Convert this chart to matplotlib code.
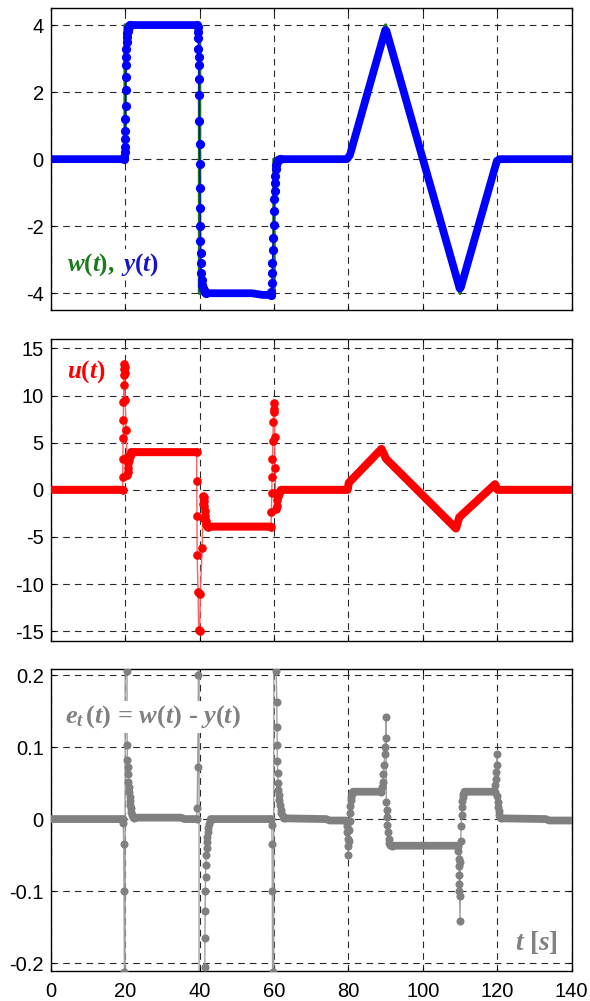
import numpy as np
import matplotlib.pyplot as plt

nan = np.nan

plt.rcParams['font.family'] = ['Liberation Sans', 'DejaVu Sans']
plt.rcParams['axes.unicode_minus'] = False
plt.rcParams['mathtext.fontset'] = 'custom'
plt.rcParams['mathtext.rm'] = 'Liberation Serif:bold'
plt.rcParams['mathtext.it'] = 'Liberation Serif:italic:bold'
plt.rcParams['mathtext.bf'] = 'Liberation Serif:bold'

# reference signal w(t) (breakpoints)
w_t = [0, 20, 20, 40, 40, 60, 60, 80, 90, 110, 120, 140]
w_v = [0, 0, 4, 4, -4, -4, 0, 0, 4, -4, 0, 0]

# output y(t): settled parts (dense samples merge into a band)
y_band_t = [0, 19.75, nan, 21.2, 39.4, nan, 41.7, 54, 57, 59.2, nan,
            61.5, 79.6, 80.4, 89.9, 90.2, 109.9, 110.2, 119.9, 120.6, 140]
y_band_v = [0, 0, nan, 4, 4, nan, -4, -4, -4.05, -4.05, nan,
            0, 0, 0.12, 3.85, 3.83, -3.86, -3.83, -0.05, 0, 0]
# output y(t): samples during transients
y_dot_t = [19.75, 19.8, 19.85, 19.9, 19.95, 20.0, 20.05, 20.1, 20.15, 20.2, 20.25, 20.3,
           20.35, 20.4, 20.5, 20.6, 20.7, 20.85, 21.0, 21.2,
           39.4, 39.5, 39.6, 39.65, 39.7, 39.75, 39.8, 39.85, 39.9, 39.95, 40.0, 40.05,
           40.1, 40.15, 40.2, 40.25, 40.3, 40.4, 40.5, 40.6, 40.75, 40.9, 41.1, 41.35, 41.7,
           59.2, 59.3, 59.4, 59.5, 59.6, 59.7, 59.8, 59.9, 60.0, 60.1, 60.2, 60.3, 60.4,
           60.5, 60.6, 60.8, 61.0, 61.5]
y_dot_v = [0.0, 0.05, 0.2, 0.35, 0.6, 0.85, 1.2, 1.6, 2.05, 2.45, 2.8, 3.05,
           3.3, 3.5, 3.65, 3.75, 3.83, 3.9, 3.95, 4.0,
           4.0, 3.93, 3.8, 3.6, 3.3, 3.05, 2.8, 2.4, 1.9, 1.15, 0.45, -0.15,
           -0.85, -1.45, -2.0, -2.45, -2.8, -3.1, -3.4, -3.6, -3.75, -3.83, -3.9, -3.95, -4.0,
           -4.05, -3.95, -3.7, -3.4, -3.1, -2.7, -2.35, -1.95, -1.55, -1.2, -0.95, -0.7, -0.5,
           -0.3, -0.17, -0.08, -0.03, 0.0]

# control u(t)
u_band_t = [0, 19.3, nan, 21.7, 39.2, nan, 42.3, 59.2, nan,
            61.9, 79.8, 80.1, 88.9, 90.1, 108.9, 109.8, 119.4, 120.1, 140]
u_band_v = [0, 0, nan, 4.0, 4.0, nan, -3.9, -3.9, nan,
            0, 0, 0.75, 4.35, 3.3, -4.1, -2.9, 0.6, 0, 0]
u_dot_t = [19.3, 19.35, 19.4, 19.45, 19.5, 19.55, 19.65, 19.7, 19.75, 19.8, 19.85, 19.9,
           20.0, 20.3, 20.45, 20.55, 20.65, 20.75, 20.85, 21.0, 21.2, 21.45, 21.7,
           39.2, 39.25, 39.3, 39.35, 39.6, 39.75, 40.05, 40.2, 40.7, 40.85, 40.95, 41.05, 41.1,
           41.2, 41.3, 41.4, 41.5, 41.6, 41.75, 42.0, 42.3,
           59.2, 59.3, 59.4, 59.5, 59.6, 59.7, 59.8, 59.9, 60.0, 60.1, 60.2, 60.3, 60.4,
           60.5, 60.7, 60.9, 61.1, 61.3, 61.6, 61.9]
u_dot_v = [0.0, 1.4, 3.3, 5.5, 7.4, 9.3, 11.1, 12.2, 12.8, 13.3, 13.0, 12.4,
           9.5, 6.3, 3.5, 1.6, 1.9, 2.3, 2.8, 3.2, 3.55, 3.8, 4.0,
           4.0, 0.9, -2.8, -6.9, -10.8, -14.9, -15.0, -11.0, -6.2, -3.0, -1.5, -0.6, -0.8,
           -1.2, -1.7, -2.2, -2.8, -3.3, -3.65, -3.85, -3.9,
           -3.9, -2.4, -0.3, 1.4, 3.3, 5.2, 7.2, 8.6, 9.2, 8.3, 5.6, 2.3, -0.3,
           -2.0, -1.7, -1.1, -0.6, -0.3, -0.1, 0.0]

# tracking error e_t(t)
e_band_t = [0, 19.4, nan, 22.5, 35, 36, 39.2, nan, 43.0, 59.3, nan, 62.6, 74, 75, 79.4, nan,
            81.3, 88.8, nan, 91.6, 109.4, nan, 111.2, 119.3, nan, 121.0, 133, 134, 140]
e_band_v = [0, 0, nan, 0.002, 0.002, 0.0, 0.0, nan, 0.0, 0.0, nan, 0.001, 0.0, -0.002, -0.002, nan,
            0.038, 0.038, nan, -0.037, -0.037, nan, 0.038, 0.038, nan, 0.001, 0.0, -0.002, -0.002]
e_dot_t = [19.4, 19.5, 19.6, 19.7, 19.8, 19.9, 20.1, 20.3, 20.5, 20.55, 20.6, 20.7, 20.8,
           20.9, 21.0, 21.1, 21.2, 21.3, 21.4, 21.5, 21.7, 21.9, 22.2, 22.5,
           39.2, 39.35, 39.5, 39.7, 39.8, 40.0, 41.2, 41.4, 41.45, 41.5, 41.55, 41.6, 41.7,
           41.8, 41.9, 42.0, 42.1, 42.2, 42.35, 42.5, 42.7, 43.0,
           59.3, 59.4, 59.5, 59.55, 59.65, 59.75, 60.2, 60.6, 60.75, 60.8, 60.85, 60.9, 61.0,
           61.1, 61.2, 61.3, 61.4, 61.6, 61.8, 62.0, 62.3, 62.6,
           79.4, 79.5, 79.6, 79.7, 79.8, 79.9, 80.0, 80.1, 80.2, 80.3, 80.4, 80.5, 80.6,
           80.7, 80.85, 81.0, 81.3,
           88.8, 89.0, 89.2, 89.4, 89.6, 89.75, 89.9, 90.0, 90.1, 90.2, 90.3, 90.4, 90.5,
           90.6, 90.8, 91.0, 91.3, 91.6,
           109.4, 109.5, 109.6, 109.7, 109.75, 109.8, 109.85, 109.9, 110.0, 110.1, 110.2,
           110.3, 110.4, 110.5, 110.6, 110.75, 110.9, 111.2,
           119.3, 119.5, 119.6, 119.7, 119.8, 119.9, 120.0, 120.1, 120.2, 120.35, 120.5,
           120.7, 121.0]
e_dot_v = [0.0, -0.005, -0.035, -0.1, -0.212, -1.5, 1.5, 0.45, 0.205, 0.103, 0.082, 0.072, 0.062,
           0.051, 0.044, 0.038, 0.031, 0.025, 0.02, 0.015, 0.01, 0.006, 0.003, 0.002,
           0.0, 0.016, 0.072, 0.2, 1.5, -3.0, -0.6, -0.205, -0.165, -0.128, -0.1, -0.08, -0.064,
           -0.05, -0.04, -0.032, -0.025, -0.018, -0.012, -0.007, -0.003, 0.0,
           0.0, -0.008, -0.035, -0.1, -0.212, -1.5, 2.0, 0.205, 0.163, 0.128, 0.103, 0.08, 0.064,
           0.05, 0.041, 0.033, 0.026, 0.019, 0.013, 0.008, 0.004, 0.002,
           -0.002, -0.005, -0.01, -0.018, -0.027, -0.038, -0.05, -0.03, -0.015, -0.003, 0.008,
           0.018, 0.026, 0.031, 0.035, 0.037, 0.038,
           0.038, 0.045, 0.052, 0.062, 0.075, 0.09, 0.1, 0.112, 0.142, 0.024, 0.012, 0.003,
           -0.008, -0.018, -0.027, -0.033, -0.036, -0.037,
           -0.038, -0.045, -0.055, -0.065, -0.077, -0.09, -0.1, -0.107, -0.142, -0.06, -0.03,
           -0.01, 0.005, 0.017, 0.025, 0.031, 0.035, 0.038,
           0.038, 0.048, 0.056, 0.065, 0.075, 0.09, 0.032, 0.024, 0.017, 0.011, 0.006,
           0.003, 0.001]

x_ticks = [0, 20, 40, 60, 80, 100, 120, 140]
y1_ticks = [-4, -2, 0, 2, 4]
y2_ticks = [-15, -10, -5, 0, 5, 10, 15]
y3_ticks = [-0.2, -0.1, 0, 0.1, 0.2]
y3_labels = ['-0.2', '-0.1', '0', '0.1', '0.2']

green = '#1b7a1b'
blue = '#0000ff'
red = '#ff0000'
gray = '#808080'

fig = plt.figure(figsize=(5.9, 10.01), dpi=100)
W, H = 590, 1001
ax1 = fig.add_axes([50.7 / W, 1 - 310 / H, 521 / W, 301.7 / H])
ax2 = fig.add_axes([50.7 / W, 1 - 640.7 / H, 521 / W, 301.7 / H])
ax3 = fig.add_axes([50.7 / W, 1 - 971 / H, 521 / W, 301.7 / H])


def style(ax, yticks, ylabels, ylim, show_x):
    ax.set_xlim(0, 140)
    ax.set_ylim(ylim)
    ax.set_xticks(x_ticks)
    ax.set_yticks(yticks)
    ax.set_yticklabels(ylabels)
    if not show_x:
        ax.set_xticklabels([])
    ax.set_axisbelow(True)
    ax.grid(True, color='#2a2a2a', linestyle=(0, (6, 4.5)), linewidth=0.8)
    ax.tick_params(direction='in', length=3, width=0.8, top=True, right=True,
                   labelsize=14.5)
    ax.tick_params(axis='y', pad=5)
    ax.tick_params(axis='x', pad=8)
    for s in ax.spines.values():
        s.set_linewidth(1.0)


style(ax1, y1_ticks, [str(v) for v in y1_ticks], (-4.5, 4.5), False)
style(ax2, y2_ticks, [str(v) for v in y2_ticks], (-16, 16), False)
style(ax3, y3_ticks, y3_labels, (-0.211, 0.208), True)

# top panel
ax1.plot(w_t, w_v, color=green, lw=2.5, zorder=2)
ax1.plot(y_band_t, y_band_v, color=blue, lw=5.6, solid_capstyle='round',
         solid_joinstyle='round', zorder=3)
ax1.plot(y_dot_t, y_dot_v, '-o', color=blue, lw=1.0, ms=5.6, zorder=4)

# middle panel
ax2.plot(u_dot_t, u_dot_v, '-', color='#ff6060', lw=1.0, zorder=2.5)
ax2.plot(u_band_t, u_band_v, color=red, lw=5.8, solid_capstyle='round',
         solid_joinstyle='round', zorder=3)
ax2.plot(u_dot_t, u_dot_v, 'o', color=red, ms=5.2, zorder=4)

# bottom panel
ax3.plot(e_dot_t, e_dot_v, '-', color='#a0a0a0', lw=1.0, zorder=2.5)
ax3.plot(e_band_t, e_band_v, color=gray, lw=5.6, solid_capstyle='round',
         solid_joinstyle='round', zorder=3)
ax3.plot(e_dot_t, e_dot_v, 'o', color=gray, ms=4.8, zorder=4)

# labels
font = dict(fontsize=18, fontfamily='Liberation Serif', fontweight='bold', va='baseline')
box = dict(fc='white', ec='none', pad=1.5)
tg = ax1.text(0.031, 0.13, r'$w(t)$,', transform=ax1.transAxes, color=green,
              bbox=box, zorder=6, **font)
ax1.annotate(r'$y(t)$', xy=(1, 0), xycoords=tg, xytext=(5, 0), textcoords='offset points',
             color='#1515c8', fontsize=18, va='bottom', ha='left', bbox=box, zorder=6)

ax2.text(0.031, 0.871, r'$u(t)$', transform=ax2.transAxes, color=red,
         bbox=box, zorder=5, **font)
ax3.text(0.028, 0.822, r'$e_t\,(t)$ = $w(t)$ - $y(t)$', transform=ax3.transAxes,
         color=gray, bbox=box, zorder=5, **dict(font, fontsize=19))
ax3.text(0.974, 0.07, r'$t$ [$s$]', transform=ax3.transAxes, color=gray, ha='right',
         bbox=box, zorder=5, **dict(font, fontsize=19.5))

fig.savefig('out.png', dpi=100)
